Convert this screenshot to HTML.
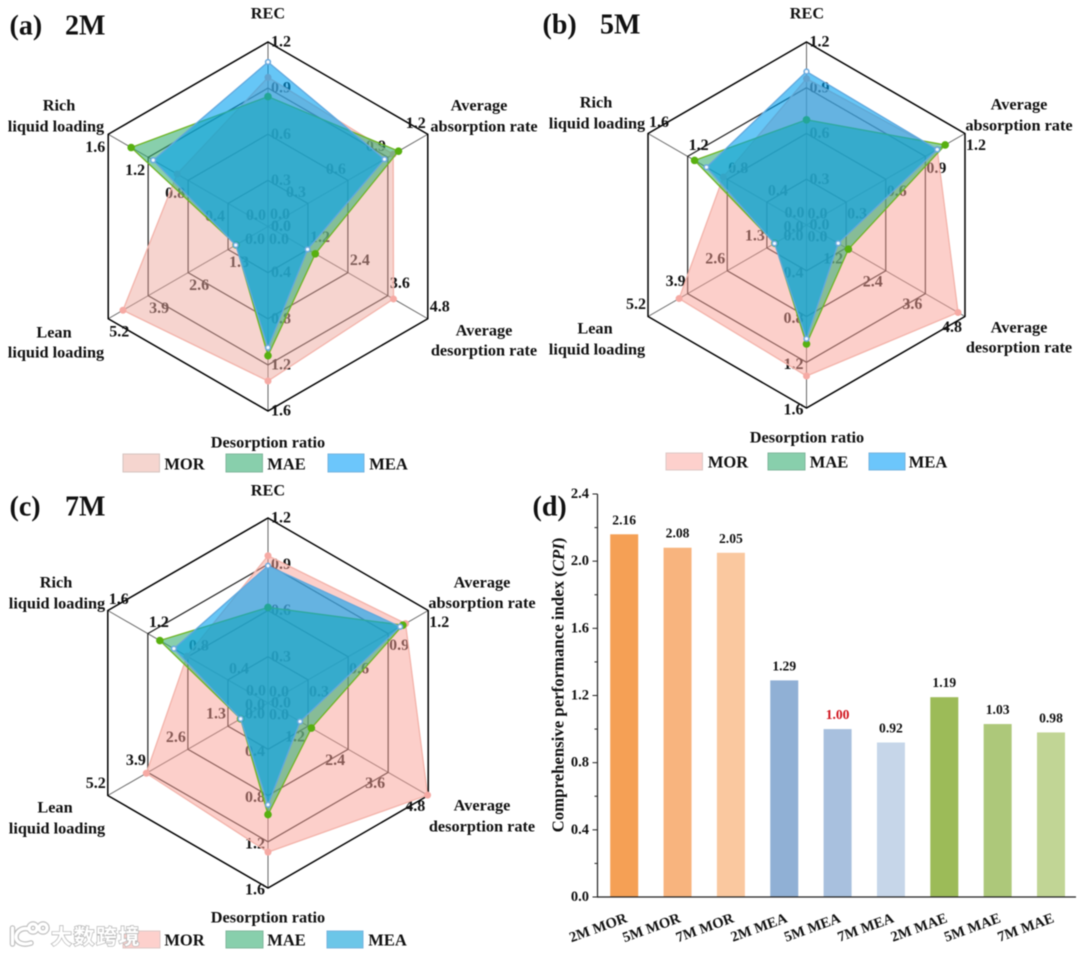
<!DOCTYPE html>
<html lang="en">
<head>
<meta charset="utf-8">
<title>CPI radar and bar charts</title>
<style>
html,body{margin:0;padding:0;background:#fff;width:1080px;height:956px;overflow:hidden}
svg{display:block;filter:blur(.45px)}
text{font-family:"Liberation Serif","Noto Sans CJK SC",serif;font-weight:bold;fill:#111;text-anchor:middle;dominant-baseline:central}
.ax{font-size:16.3px}
.tick{font-size:16px}
.leg{font-size:16.5px}
.ttl{font-size:28px;text-anchor:start}
.bv{font-size:13.6px}
.bc{font-size:14.6px}
.by{font-size:14.5px}
.wm{font-family:"Noto Sans CJK SC","Liberation Sans",sans-serif;font-size:21px;font-weight:700;fill:#fff;stroke:#b5b5b5;stroke-width:1.4px;paint-order:stroke;text-anchor:start;letter-spacing:1.5px}
</style>
</head>
<body>
<svg id="fig" width="1080" height="956" viewBox="0 0 1080 956" xmlns="http://www.w3.org/2000/svg">
<rect width="1080" height="956" fill="#fff"/>
<g id="radar-a"></g>
<g id="radar-b"></g>
<g id="radar-c"></g>
<g id="bars"></g>

<text class="ttl" x="9.500" y="26">(a)</text>
<text class="ttl" x="65" y="26">2M</text>
<text class="ttl" x="542.500" y="25">(b)</text>
<text class="ttl" x="600" y="25">5M</text>
<text class="ttl" x="9.500" y="507">(c)</text>
<text class="ttl" x="65" y="507">7M</text>
<text class="ttl" x="532.500" y="507">(d)</text>

<g>
<text class="ax" x="268" y="13">REC</text>
<text class="ax" x="59" y="105">Rich</text>
<text class="ax" x="56" y="126">liquid loading</text>
<text class="ax" x="479" y="105">Average</text>
<text class="ax" x="484" y="126">absorption rate</text>
<text class="ax" x="484" y="330">Average</text>
<text class="ax" x="484" y="350">desorption rate</text>
<text class="ax" x="54" y="332">Lean</text>
<text class="ax" x="56" y="352">liquid loading</text>
<text class="ax" x="268" y="442">Desorption ratio</text>
</g>
<g>
<rect x="123" y="454" width="36.500" height="18" fill="#f5d5cf" stroke="#d5c4c0"/>
<text class="leg" x="184.500" y="464">MOR</text>
<rect x="226" y="454" width="36.500" height="18" fill="#88cfac" stroke="#7fb69b"/>
<text class="leg" x="286.500" y="464">MAE</text>
<rect x="328" y="454" width="36" height="18" fill="#6cc6fb" stroke="#74b4de"/>
<text class="leg" x="388.500" y="464">MEA</text>
</g>

<g>
<text class="ax" x="807" y="13">REC</text>
<text class="ax" x="596" y="102">Rich</text>
<text class="ax" x="597" y="123">liquid loading</text>
<text class="ax" x="1019" y="104">Average</text>
<text class="ax" x="1019" y="125">absorption rate</text>
<text class="ax" x="1019" y="327">Average</text>
<text class="ax" x="1019" y="347">desorption rate</text>
<text class="ax" x="595" y="328">Lean</text>
<text class="ax" x="597" y="349">liquid loading</text>
<text class="ax" x="807" y="437">Desorption ratio</text>
</g>
<g>
<rect x="666" y="453" width="36.500" height="17" fill="#fdd0cc" stroke="#ddc8c6"/>
<text class="leg" x="728" y="462">MOR</text>
<rect x="768" y="453" width="37" height="17" fill="#88cfac" stroke="#7fb69b"/>
<text class="leg" x="829" y="462">MAE</text>
<rect x="869" y="453" width="36" height="17" fill="#6cc6fb" stroke="#74b4de"/>
<text class="leg" x="928" y="462">MEA</text>
</g>

<g>
<text class="ax" x="268" y="490">REC</text>
<text class="ax" x="56" y="582">Rich</text>
<text class="ax" x="57" y="603">liquid loading</text>
<text class="ax" x="482" y="582">Average</text>
<text class="ax" x="482" y="602.500">absorption rate</text>
<text class="ax" x="482" y="805">Average</text>
<text class="ax" x="482" y="826">desorption rate</text>
<text class="ax" x="55" y="807">Lean</text>
<text class="ax" x="57" y="828">liquid loading</text>
<text class="ax" x="268" y="917">Desorption ratio</text>
</g>
<g>
<rect x="123" y="931" width="37" height="17" fill="#fdd0cc" stroke="#ddc8c6"/>
<text class="leg" x="184.500" y="940">MOR</text>
<rect x="226" y="931" width="37" height="17" fill="#88cfac" stroke="#7fb69b"/>
<text class="leg" x="286.500" y="940">MAE</text>
<rect x="327" y="931" width="36" height="17" fill="#6cc6e8" stroke="#74b4de"/>
<text class="leg" x="387.500" y="940">MEA</text>
</g>

<text transform="translate(558 685) rotate(-90)" style="font-size:16.800px">Comprehensive performance index (<tspan font-style="italic">CPI</tspan>)</text>

<g>
<g fill="none" stroke="#bdbdbd" stroke-width="5.500" stroke-linecap="round">
<path d="M12.500 928v16M29 929c-8-2-13 3-13 8s6 9 15 6"/><circle cx="33" cy="928" r="4"/><circle cx="43" cy="928" r="4"/>
</g>
<g fill="none" stroke="#fff" stroke-width="3.200" stroke-linecap="round">
<path d="M12.500 928v16M29 929c-8-2-13 3-13 8s6 9 15 6"/><circle cx="33" cy="928" r="4"/><circle cx="43" cy="928" r="4"/>
</g>
<text class="wm" x="51" y="936">大数跨境</text>
</g>
</svg>

<script>
// ---- Radar data ----
const axisTicks = [
  [0, 0.3, 0.6, 0.9, 1.2],
  [0, 0.3, 0.6, 0.9, 1.2],
  [0, 1.2, 2.4, 3.6, 4.8],
  [0, 0.4, 0.8, 1.2, 1.6],
  [0, 1.3, 2.6, 3.9, 5.2],
  [0, 0.4, 0.8, 1.2, 1.6]
];
const mor2M = [0.97, 0.94, 3.77, 1.34, 4.72, 0.91];
const mae2M = [0.845, 0.98, 1.42, 1.12, 1.04, 1.37];
const mea2M = [1.07, 0.875, 1.19, 1.05, 1.05, 1.15];
const mor5M = [0.96, 0.99, 4.59, 1.32, 4.18, 0.84];
const mae5M = [0.69, 1.05, 1.27, 1.04, 1.04, 1.13];
const mea5M = [1.006, 0.99, 0.96, 0.995, 1.05, 1.01];
const mor7M = [0.955, 1.03, 4.78, 1.29, 3.95, 0.81];
const mae7M = [0.62, 1.01, 1.30, 0.965, 0.89, 1.08];
const mea7M = [0.89, 0.99, 0.96, 0.88, 0.89, 0.94];
// ---- Bar data ----
const barCategories = ["2M MOR", "5M MOR", "7M MOR", "2M MEA", "5M MEA", "7M MEA", "2M MAE", "5M MAE", "7M MAE"];
const barValues = [2.16, 2.08, 2.05, 1.29, 1.00, 0.92, 1.19, 1.03, 0.98];
const barTicks = [0, 0.4, 0.8, 1.2, 1.6, 2.0, 2.4];
const barMinorTicks = [0.2, 0.6, 1.0, 1.4, 1.8, 2.2];

const NS = "http://www.w3.org/2000/svg";
function make(tag, attrs, parent) {
  const el = document.createElementNS(NS, tag);
  for (const k in attrs) el.setAttribute(k, attrs[k]);
  parent.appendChild(el);
  return el;
}
const labelShiftA = [[13,0],[-12,-11],[12,-12],[13,0],[11,13],[-13,13]];
const labelShiftB = [[13,0],[11,12],[-13,11],[-13,2],[-12,-12],[11,-11]];
const axisNames = ["rec", "absorption", "desorption", "ratio", "lean", "rich"];

function drawRadar(id, cx, cy, R, shifts, morFill, mor, mae, mea) {
  const root = document.getElementById(id);
  const angle = i => (-90 + 60 * i) * Math.PI / 180;
  const pt = (i, f) => [cx + R * f * Math.cos(angle(i)), cy + R * f * Math.sin(angle(i))];
  const rad = (i, v) => v / axisTicks[i][axisTicks[i].length - 1];
  const pts = fn => [0,1,2,3,4,5].map(i => fn(i).map(n => n.toFixed(2)).join(",")).join(" ");

  for (let i = 0; i < 6; i++) {
    const e = pt(i, 1);
    const spoke = make("line", {x1: cx, y1: cy, x2: e[0], y2: e[1], stroke: "#666", "stroke-width": 1}, root);
    
    
  }
  for (let r = 1; r <= 4; r++) {
    const ring = make("polygon", {points: pts(i => pt(i, r / 4)), fill: "none",
      stroke: r === 4 ? "#000" : "#222", "stroke-width": r === 4 ? 1.5 : 1.2}, root);
    
    
  }
  for (let i = 0; i < 6; i++) {
    axisTicks[i].forEach((t, k) => {
      const p = pt(i, k / 4);
      const lab = make("text", {x: p[0] + shifts[i][0], y: p[1] + shifts[i][1], class: "tick"}, root);
      
      
      lab.textContent = t.toFixed(1);
    });
  }
  const series = [
    {name: "mor", v: mor, fill: morFill, line: "#f3b3aa", dot: "#f6aaa4", r: 3.5},
    {name: "mae", v: mae, fill: "rgba(57,175,117,.6)", line: "#6fb524", dot: "#58b010", r: 3.8},
    {name: "mea", v: mea, fill: "rgba(0,160,240,.6)", line: "#62a8de", dot: "#f2f8ff", r: 2.4}
  ];
  series.forEach(s => {
    const poly = make("polygon", {points: pts(i => pt(i, rad(i, s.v[i]))), fill: s.fill, stroke: s.line, "stroke-width": 1.3}, root);
    
    
    s.v.forEach((v, i) => {
      const p = pt(i, rad(i, v));
      const dot = make("circle", {cx: p[0], cy: p[1], r: s.r, fill: s.dot,
        stroke: s.name === "mea" ? "#6aa9de" : "none", "stroke-width": 1.5}, root);
      
      
    });
  });
}
drawRadar("radar-a", 268, 226.5, 184.5, labelShiftA, "rgba(238,170,160,.5)", mor2M, mae2M, mea2M);
drawRadar("radar-b", 806.5, 225, 183, labelShiftB, "rgba(250,160,150,.5)", mor5M, mae5M, mea5M);
drawRadar("radar-c", 268, 703, 185, labelShiftB, "rgba(250,160,150,.5)", mor7M, mae7M, mea7M);

(function drawBars() {
  const root = document.getElementById("bars");
  const x0 = 597.5, xEnd = 1076, y0 = 897, yTop = 494, yMax = 2.4;
  const y = v => y0 - (y0 - yTop) * v / yMax;
  const x = i => 624.2 + 53.35 * i;
  const barW = 28;
  const colors = ["#f5a055", "#f8b47e", "#fac89f", "#90b0d5", "#a8c0de", "#c6d6e9", "#9cbb58", "#adc87a", "#c1d595"];
  barValues.forEach((v, i) => {
    const r = make("rect", {x: x(i) - barW / 2, y: y(v), width: barW, height: y0 - y(v), fill: colors[i]}, root);
    
    
    const t = make("text", {x: x(i), y: y(v) - 14.5, class: "bv"}, root);
    
    
    if (v === 1) t.style.fill = "#d0121b";
    t.textContent = v.toFixed(2);
    const c = make("text", {class: "bc", transform: "translate(" + (x(i) + 2.5) + " 918) rotate(-20)"}, root);
    
    
    c.style.textAnchor = "end";
    c.textContent = barCategories[i];
  });
  const yAxis = make("line", {x1: x0, y1: yTop, x2: x0, y2: y0 + .6, stroke: "#222", "stroke-width": 1.2}, root);
  
  
  const xAxis = make("line", {x1: x0, y1: y0, x2: xEnd, y2: y0, stroke: "#222", "stroke-width": 1.2}, root);
  
  
  barTicks.forEach(v => {
    const m = make("line", {x1: x0 - 5, y1: y(v), x2: x0, y2: y(v), stroke: "#222", "stroke-width": 1}, root);
    
    
    const l = make("text", {x: 589, y: y(v), class: "by"}, root);
    
    
    l.style.textAnchor = "end";
    l.textContent = v.toFixed(1);
  });
  barMinorTicks.forEach(v => {
    const m = make("line", {x1: x0 - 3, y1: y(v), x2: x0, y2: y(v), stroke: "#222", "stroke-width": 1}, root);
    
    
  });
})();
</script>
</body>
</html>
